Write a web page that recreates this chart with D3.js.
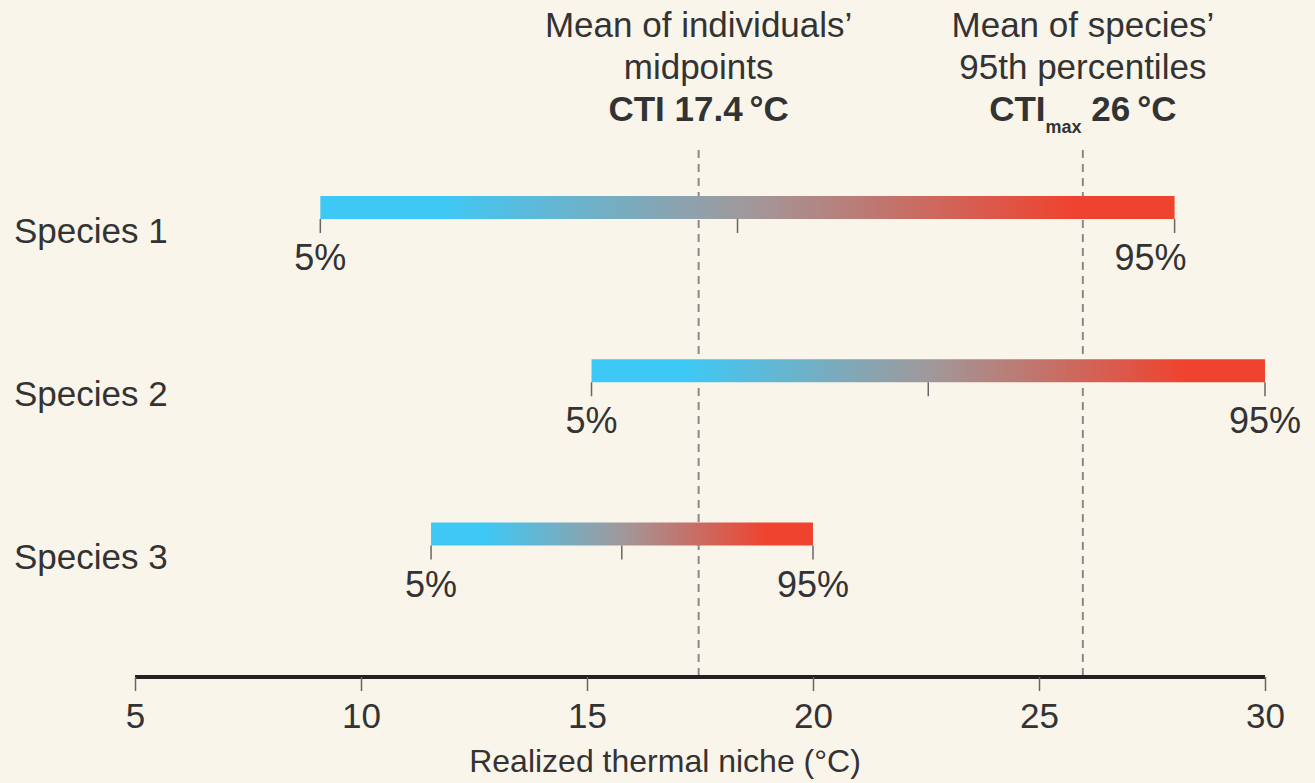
<!DOCTYPE html>
<html><head><meta charset="utf-8">
<script src="https://cdn.jsdelivr.net/npm/d3@7"></script>
<style>
html,body{margin:0;padding:0;background:#faf5ea;}
svg{display:block;}
text{font-family:"Liberation Sans",Arial,sans-serif;fill:#333;}
</style></head>
<body>
<svg id="c" width="1315" height="783"></svg>
<script>
const species = ["Species 1","Species 2","Species 3"];
const lowP5 = [9.1, 15.1, 11.55];
const highP95 = [28.0, 30.0, 20.0];
const midpoints = [18.33, 22.55, 15.77];
const refLines = [17.47, 25.97];
const refValueLabels = ["17.4", "26"];
const refTitles = [["Mean of individuals’","midpoints"],["Mean of species’","95th percentiles"]];
const xTicks = [5,10,15,20,25,30];
const pctLabels = ["5%","95%"];

const svg = d3.select("#c");
svg.append("rect").attr("width",1315).attr("height",783).attr("fill","#faf5ea");

const x = d3.scaleLinear().domain([5,30]).range([135,1265]);
const y = d3.scalePoint().domain(species).range([207.5,534]);
const barH = 23;
const axisY = 677;

// gradient
const defs = svg.append("defs");
const grad = defs.append("linearGradient").attr("id","g").attr("x1","0%").attr("x2","100%");
[[0,"#3ec8f5"],[0.14,"#3ec8f5"],[0.5,"#a0999b"],[0.88,"#ef432f"],[1,"#ef432f"]]
  .forEach(([o,c])=>grad.append("stop").attr("offset",o).attr("stop-color",c));

// dashed reference lines
refLines.forEach(v=>{
  svg.append("line").attr("x1",x(v)).attr("x2",x(v)).attr("y1",150).attr("y2",axisY)
    .attr("stroke","#8a8a8a").attr("stroke-width",2).attr("stroke-dasharray","8,6");
});

// titles
refLines.forEach((v,i)=>{
  const cx = x(v);
  refTitles[i].forEach((t,j)=>{
    svg.append("text").attr("x",cx).attr("y",37+j*42).attr("text-anchor","middle")
      .attr("font-size",35).text(t);
  });
});
// bold labels
{
  const bf = "Roboto, 'Liberation Sans', sans-serif";
  const t1 = svg.append("text").attr("x",x(refLines[0])).attr("y",121).attr("text-anchor","middle")
    .attr("font-size",35).attr("font-weight","bold").attr("font-family",bf);
  t1.text("CTI " + refValueLabels[0] + "\u202F°C");
  const t2 = svg.append("text").attr("x",x(refLines[1])).attr("y",121).attr("text-anchor","middle")
    .attr("font-size",35).attr("font-weight","bold").attr("font-family",bf);
  t2.append("tspan").text("CTI");
  t2.append("tspan").attr("font-size",18).attr("dy",12).text("max");
  t2.append("tspan").attr("dy",-12).text(" " + refValueLabels[1] + "\u202F°C");
}

// bars
species.forEach((s,i)=>{
  const cy = y(s);
  const top = cy - barH/2, bot = cy + barH/2;
  svg.append("rect").attr("x",x(lowP5[i])).attr("y",top)
    .attr("width",x(highP95[i])-x(lowP5[i])).attr("height",barH).attr("fill","url(#g)");
  [lowP5[i], midpoints[i], highP95[i]].forEach(v=>{
    svg.append("line").attr("x1",x(v)).attr("x2",x(v)).attr("y1",bot).attr("y2",bot+14)
      .attr("stroke","#666").attr("stroke-width",1.5);
  });
  svg.append("text").attr("x",x(lowP5[i])).attr("y",bot+51).attr("text-anchor","middle")
    .attr("font-size",36).text(pctLabels[0]);
  svg.append("text").attr("x",x(highP95[i]) - (i===0?24:0)).attr("y",bot+51).attr("text-anchor","middle")
    .attr("font-size",36).text(pctLabels[1]);
  svg.append("text").attr("x",14).attr("y",cy+35).attr("font-size",35).text(s);
});

// axis
const ax = svg.append("g").attr("transform",`translate(0,${axisY})`)
  .call(d3.axisBottom(x).tickValues(xTicks).tickSize(14).tickPadding(7).tickFormat(d3.format("d")));
ax.select(".domain").attr("stroke","#222").attr("stroke-width",4).attr("d",`M${x(5)},0H${x(30)}`);
ax.selectAll(".tick line").attr("stroke","#666").attr("stroke-width",1.5);
ax.selectAll(".tick text").attr("font-size",35).attr("fill","#333").attr("dy","0.85em")
  .attr("font-family","'Liberation Sans',Arial,sans-serif");
svg.append("text").attr("x",665).attr("y",772).attr("text-anchor","middle").attr("font-size",32)
  .text("Realized thermal niche (°C)");
</script>
</body></html>
